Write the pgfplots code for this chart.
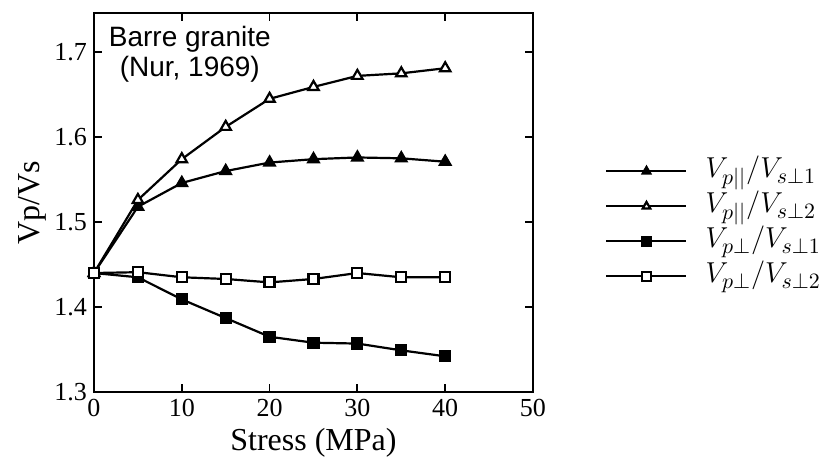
\documentclass[border=0pt]{standalone}
\usepackage{pgfplots}
\pgfplotsset{compat=1.18}
\usepackage{fontspec}
\setmainfont{Liberation Serif}
\newfontfamily\helv{Liberation Sans}
\begin{document}
\begin{tikzpicture}
\useasboundingbox (0,0) rectangle (412.5pt,233pt);
\begin{axis}[
  at={(47pt,37pt)}, anchor=south west,
  scale only axis, width=219.5pt, height=189.5pt,
  xmin=0, xmax=50, ymin=1.3, ymax=1.746,
  xtick={0,10,20,30,40,50}, ytick={1.3,1.4,1.5,1.6,1.7},
  yticklabel style={/pgf/number format/fixed,/pgf/number format/precision=1,/pgf/number format/fixed zerofill},
  tick align=inside, major tick length=4pt,
  tick style={line width=0.9pt, black},
  axis line style={line width=1pt},
  /pgf/number format/assume math mode=true,
  ticklabel style={font=\fontsize{13}{15}\selectfont},
  xlabel={Stress (MPa)}, ylabel={Vp/Vs},
  label style={font=\fontsize{16}{18}\selectfont},
  xlabel style={yshift=1pt},
  ylabel style={yshift=-3pt},
  every axis plot/.append style={line width=1.1pt, black},
  legend style={draw=none, fill=none, at={(1.164,0.64)}, anchor=north west,
    font=\fontsize{15.5}{17}\selectfont, row sep=0pt, inner xsep=0pt,
    nodes={text height=11pt, text depth=4.5pt, inner ysep=1pt},
    /tikz/column 1/.style={column sep=7pt}},
  legend cell align=left,
  legend image code/.code={\draw[mark repeat=2,mark phase=2,mark size=2.2pt] plot coordinates {(0pt,0pt) (20pt,0pt) (40pt,0pt)};},
  clip=false,
]
\addplot[mark=triangle*, mark size=3pt, mark options={solid, fill=black}] coordinates {
(0,1.440) (5,1.518) (10,1.546) (15,1.560) (20,1.570) (25,1.574) (30,1.576) (35,1.575) (40,1.571)};
\addlegendentry{$V_{p||}/V_{s\perp 1}$}
\addplot[mark=triangle*, mark size=3pt, mark options={solid, fill=white}] coordinates {
(0,1.440) (5,1.526) (10,1.574) (15,1.612) (20,1.645) (25,1.659) (30,1.672) (35,1.675) (40,1.681)};
\addlegendentry{$V_{p||}/V_{s\perp 2}$}
\addplot[mark=square*, mark size=2.5pt, mark options={solid, fill=black}] coordinates {
(0,1.440) (5,1.435) (10,1.409) (15,1.387) (20,1.365) (25,1.358) (30,1.357) (35,1.349) (40,1.342)};
\addlegendentry{$V_{p\perp}/V_{s\perp 1}$}
\addplot[mark=square*, mark size=2.5pt, mark options={solid, fill=white}] coordinates {
(0,1.440) (5,1.441) (10,1.435) (15,1.433) (20,1.429) (25,1.433) (30,1.440) (35,1.435) (40,1.435)};
\addlegendentry{$V_{p\perp}/V_{s\perp 2}$}
\node[anchor=north west, align=center, inner sep=0pt, font=\helv\fontsize{14}{15}\selectfont]
  at (rel axis cs:0.033,0.965) {Barre granite\\(Nur, 1969)};
\end{axis}
\end{tikzpicture}
\end{document}
